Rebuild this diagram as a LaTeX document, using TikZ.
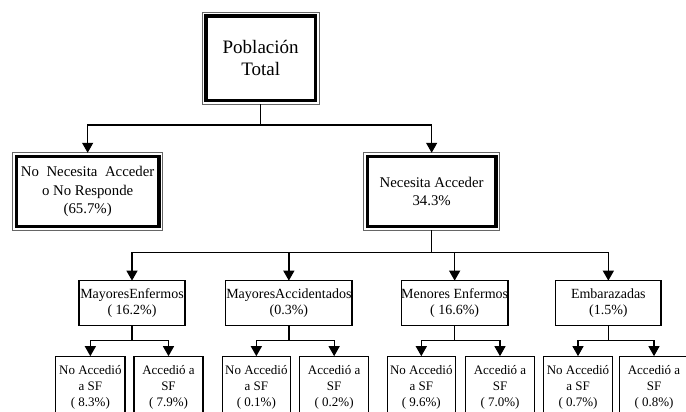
\documentclass[tikz,border=0pt]{standalone}
\usepackage{fontspec}
\setmainfont{Liberation Serif}
\usetikzlibrary{arrows.meta}
\newcommand{\fsztop}{\fontsize{19}{22}\selectfont}
\newcommand{\fszbig}{\fontsize{14.8}{18.3}\selectfont}
\newcommand{\fszmid}{\fontsize{14}{16.7}\selectfont}
\newcommand{\fszbot}{\fontsize{13}{15.8}\selectfont}
\begin{document}
\begin{tikzpicture}[x=1pt,y=1pt,
  conn/.style={line width=1.3pt},
  arr/.style={conn,-{Triangle[width=11pt,length=10pt]}},
  bigbox/.style={draw, line width=3.4pt, outer sep=3.7pt, inner sep=0pt, align=center},
  outl/.style={line width=0.9pt, draw=black!60},
  midbox/.style={draw, line width=1.3pt, inner sep=0pt, outer sep=0pt, align=center, font=\fszmid, minimum height=44.7pt},
  botbox/.style={draw, line width=1.3pt, inner sep=0pt, outer sep=0pt, align=center, font=\fszbot, minimum height=62.65pt}]
\useasboundingbox (0,0) rectangle (686,412);
\clip (0,0) rectangle (686,412);

% big boxes
\node[bigbox, font=\fsztop, minimum width=109.3pt, minimum height=84.6pt] (T) at (260.65,353.7) {Población\\Total};
\node[bigbox, font=\fszbig, minimum width=142.9pt, minimum height=70pt] (L) at (87.65,220.5)
  {\spaceskip=7.5pt plus 1pt No Necesita Acceder\\o No Responde\\(65.7\%)};
\node[bigbox, font=\fszbig, minimum width=128.3pt, minimum height=70pt] (R) at (431.65,220.5)
  {\baselineskip=15pt Necesita Acceder\\34.3\%};
\draw[outl] (T.north west) rectangle (T.south east);
\draw[outl] (L.north west) rectangle (L.south east);
\draw[outl] (R.north west) rectangle (R.south east);

% mid boxes
\node[midbox, minimum width=106.1pt] (M1) at (132,109) {MayoresEnfermos\\( 16.2\%)};
\node[midbox, minimum width=126.4pt] (M2) at (288.85,109) {MayoresAccidentados\\(0.3\%)};
\node[midbox, minimum width=106pt] (M3) at (454.65,109) {Menores Enfermos\\( 16.6\%)};
\node[midbox, minimum width=105.4pt] (M4) at (608.35,109) {Embarazadas\\(1.5\%)};

% bottom boxes
\node[botbox, minimum width=69.4pt] (B1) at (90.35,24.5) {No Accedió\\a SF\\( 8.3\%)};
\node[botbox, minimum width=69.1pt] (B2) at (168.5,24.5) {Accedió a\\SF\\( 7.9\%)};
\node[botbox, minimum width=68pt] (B3) at (256.35,24.5) {No Accedió\\a SF\\( 0.1\%)};
\node[botbox, minimum width=69pt] (B4) at (334.15,24.5) {Accedió a\\SF\\( 0.2\%)};
\node[botbox, minimum width=68pt] (B5) at (421.3,24.5) {No Accedió\\a SF\\( 9.6\%)};
\node[botbox, minimum width=68.7pt] (B6) at (500,24.5) {Accedió a\\SF\\( 7.0\%)};
\node[botbox, minimum width=69.3pt] (B7) at (578,24.5) {No Accedió\\a SF\\( 0.7\%)};
\node[botbox, minimum width=68.7pt] (B8) at (654,24.5) {Accedió a\\SF\\( 0.8\%)};

% level 1 connectors
\coordinate (j0) at (260.65,287);
\draw[conn] (T.south) -- (j0);
\draw[arr] (j0) -| (L.north);
\draw[arr] (j0) -| (R.north);

% level 2 connectors
\coordinate (j1) at (431.65,159.7);
\draw[conn] (R.south) -- (j1);
\draw[arr] (j1) -| (M1.north);
\draw[arr] (j1) -| (M2.north);
\draw[arr] (j1) -| (M3.north);
\draw[arr] (j1) -| (M4.north);

% level 3 connectors
\coordinate (k1) at (132,71.3);
\coordinate (k2) at (288.85,71.3);
\coordinate (k3) at (454.65,71.3);
\coordinate (k4) at (608.35,71.3);
\draw[conn] (M1.south) -- (k1);
\draw[conn] (M2.south) -- (k2);
\draw[conn] (M3.south) -- (k3);
\draw[conn] (M4.south) -- (k4);
\draw[arr] (k1) -| (B1.north);
\draw[arr] (k1) -| (B2.north);
\draw[arr] (k2) -| (B3.north);
\draw[arr] (k2) -| (B4.north);
\draw[arr] (k3) -| (B5.north);
\draw[arr] (k3) -| (B6.north);
\draw[arr] (k4) -| (B7.north);
\draw[arr] (k4) -| (B8.north);
\end{tikzpicture}
\end{document}
